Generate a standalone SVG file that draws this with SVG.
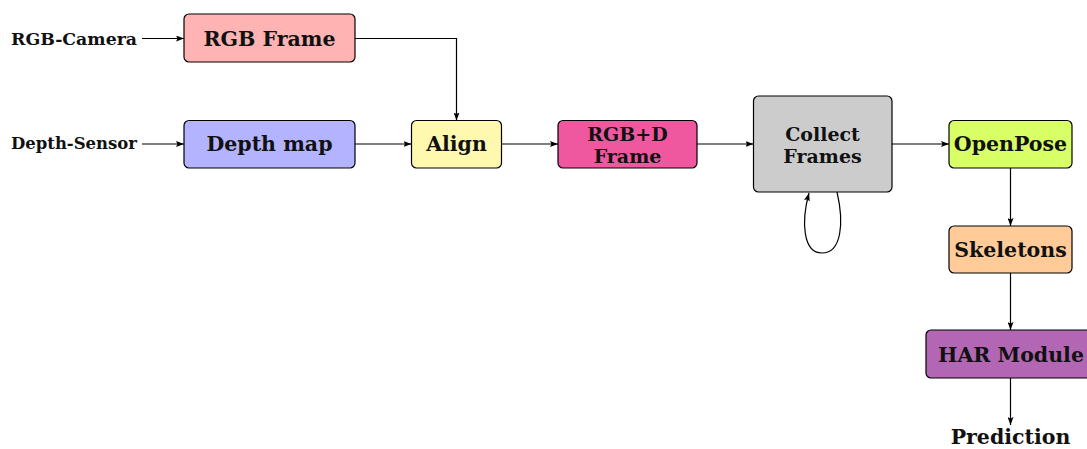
<svg xmlns="http://www.w3.org/2000/svg" width="1087" height="449" viewBox="0 0 1087 449">
  <defs>
    <marker id="arr" viewBox="0 0 8 6" refX="8" refY="3" markerWidth="8" markerHeight="6" markerUnits="userSpaceOnUse" orient="auto">
      <path d="M0,0 L8,3 L0,6 L1.5,3 Z" fill="#000"/>
    </marker>
  </defs>
  <style>
    .box { stroke: #000; stroke-width: 1.2; }
    .lbl { font-family: "DejaVu Serif", "Liberation Serif", serif; font-weight: bold; font-size: 20.5px; fill: #111; text-anchor: middle; }
    .two { font-size: 19px; }
    .src { font-family: "DejaVu Serif", "Liberation Serif", serif; font-weight: bold; font-size: 16px; fill: #111; }
    .edge { fill: none; stroke: #000; stroke-width: 1.2; marker-end: url(#arr); }
  </style>
  <rect width="1087" height="449" fill="#fff"/>

  <!-- source labels -->
  <text class="src" x="11" y="45" textLength="126" lengthAdjust="spacingAndGlyphs">RGB-Camera</text>
  <text class="src" x="11" y="149" textLength="126" lengthAdjust="spacingAndGlyphs">Depth-Sensor</text>

  <g id="rgb-frame">
    <rect class="box" x="184" y="14" width="171" height="48" rx="5" fill="#FFB3B3"/>
    <text class="lbl" x="269.5" y="45.5">RGB Frame</text>
  </g>
  <g id="depth-map">
    <rect class="box" x="184" y="120.5" width="171" height="47.5" rx="5" fill="#B3B3FF"/>
    <text class="lbl" x="269.5" y="150.5">Depth map</text>
  </g>
  <g id="align">
    <rect class="box" x="411.5" y="120.5" width="90" height="47.5" rx="5" fill="#FFF9B0"/>
    <text class="lbl" x="456.5" y="150.5">Align</text>
  </g>
  <g id="rgbd-frame">
    <rect class="box" x="558" y="120.5" width="139" height="47.5" rx="5" fill="#EF589F"/>
    <text class="lbl two" x="627.5" y="141">RGB+D</text>
    <text class="lbl two" x="627.5" y="163">Frame</text>
  </g>
  <g id="collect-frames">
    <rect class="box" x="753.5" y="96" width="138.5" height="96" rx="5" fill="#CCCCCC"/>
    <text class="lbl two" x="822.5" y="141">Collect</text>
    <text class="lbl two" x="822.5" y="163">Frames</text>
  </g>
  <g id="openpose">
    <rect class="box" x="949" y="120.5" width="123" height="47.5" rx="5" fill="#D9FF66"/>
    <text class="lbl" x="1010.5" y="150.5">OpenPose</text>
  </g>
  <g id="skeletons">
    <rect class="box" x="949" y="226" width="123" height="47" rx="5" fill="#FFCC99"/>
    <text class="lbl" x="1010.5" y="256.5">Skeletons</text>
  </g>
  <g id="har-module">
    <rect class="box" x="926" y="330" width="170" height="48" rx="5" fill="#B366B3"/>
    <text class="lbl" x="1011" y="361.5">HAR Module</text>
  </g>
  <g id="prediction">
    <text class="lbl" x="1010.5" y="443.5">Prediction</text>
  </g>

  <g id="connectors">
    <path class="edge" d="M142,38.5 H184"/>
    <path class="edge" d="M142,144 H184"/>
    <path class="edge" d="M355,38.5 H456.5 V120.5"/>
    <path class="edge" d="M355,144 H411.5"/>
    <path class="edge" d="M501.5,144 H558"/>
    <path class="edge" d="M697,144 H753.5"/>
    <path class="edge" d="M892,144 H949"/>
    <path class="edge" d="M1010.5,168 V226"/>
    <path class="edge" d="M1010.5,273 V330"/>
    <path class="edge" d="M1010.5,378 V425"/>
    <path class="edge" d="M837,192 C844,222 842,253 822,253 C803,253 801,222 809,193"/>
  </g>
</svg>
